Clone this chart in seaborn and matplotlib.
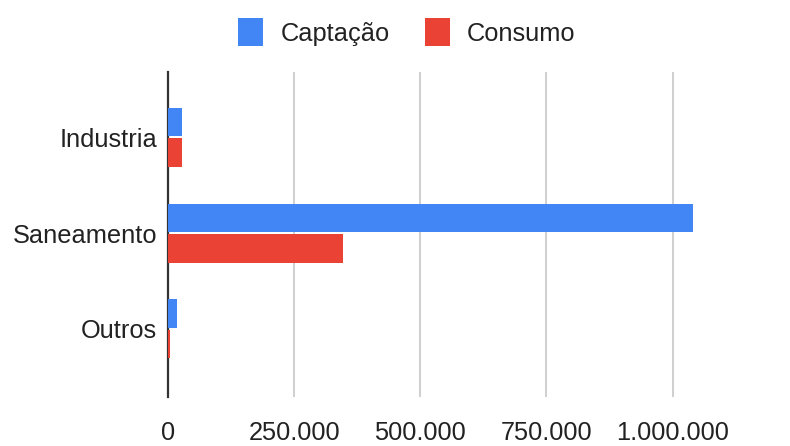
import matplotlib
matplotlib.use("Agg")
import matplotlib.pyplot as plt
from matplotlib.ticker import FuncFormatter, FixedLocator
from matplotlib.patches import Patch
import seaborn as sns
import pandas as pd

# Water use by sector (m³)
categories = ["Industria", "Saneamento", "Outros"]
captacao = [28000, 1040000, 18000]
consumo = [28000, 346000, 3000]
series_names = ["Captação", "Consumo"]
x_ticks = [0, 250000, 500000, 750000, 1000000]

colors = {"Captação": "#4285F4", "Consumo": "#EA4335"}

df = pd.DataFrame({
    "Setor": categories * 2,
    "Série": [series_names[0]] * 3 + [series_names[1]] * 3,
    "Valor": captacao + consumo,
})

sns.set_theme(style="white")
plt.rcParams["font.family"] = ["Liberation Sans", "DejaVu Sans"]

FS = 18.3

fig = plt.figure(figsize=(7.9, 4.46), dpi=100)
ax = fig.add_axes([168 / 790, 1 - 397 / 446, (713 - 168) / 790, (397 - 72) / 446])

sns.barplot(data=df, y="Setor", x="Valor", hue="Série", orient="h",
            palette=colors, width=0.64, gap=0.08, ax=ax, legend=False,
            saturation=1, linewidth=0)
for bar in ax.patches:
    bar.set_zorder(2)

ax.set_xlim(0, 1080000)
ax.set_ylim(2.71, -0.68)
ax.xaxis.set_major_locator(FixedLocator(x_ticks))
ax.xaxis.set_major_formatter(FuncFormatter(lambda v, p: f"{int(v):,}".replace(",", ".")))
ax.grid(axis="x", color="#cccccc", linewidth=1.3)
ax.set_axisbelow(True)
for s in ["top", "right", "bottom"]:
    ax.spines[s].set_visible(False)
ax.spines["left"].set_color("#333333")
ax.spines["left"].set_linewidth(1.6)
ax.spines["left"].set_zorder(1)
ax.set_xlabel("")
ax.set_ylabel("")
ax.tick_params(axis="x", length=0, pad=17, labelsize=FS, colors="#222222")
ax.tick_params(axis="y", length=0, pad=8, labelsize=FS, colors="#222222")

handles = [Patch(facecolor=colors[n], edgecolor="none") for n in series_names]
fig.legend(handles, series_names, loc="center", bbox_to_anchor=(0.515, 1 - 32 / 446),
           ncol=2, frameon=False, fontsize=FS, handlelength=1.0, handleheight=1.3,
           handletextpad=0.67, columnspacing=1.38, labelcolor="#222222")

fig.savefig("out.png", dpi=100, facecolor="white")
